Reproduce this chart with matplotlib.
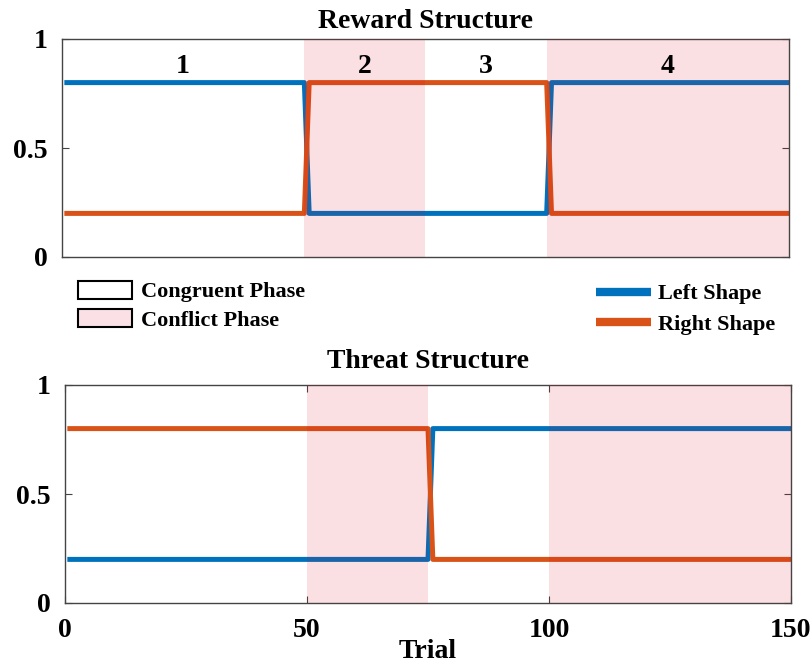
import numpy as np
import matplotlib.pyplot as plt
from matplotlib.patches import Patch
from matplotlib.lines import Line2D

plt.rcParams['font.family'] = ['Liberation Serif', 'DejaVu Serif']
plt.rcParams['font.weight'] = 'bold'

# trial-wise probabilities for each shape
trials = np.arange(1, 151)
reward_left = np.r_[np.full(50, 0.8), np.full(50, 0.2), np.full(50, 0.8)]
reward_right = np.r_[np.full(50, 0.2), np.full(50, 0.8), np.full(50, 0.2)]
threat_left = np.r_[np.full(75, 0.2), np.full(75, 0.8)]
threat_right = np.r_[np.full(75, 0.8), np.full(75, 0.2)]

# phases: (start, end, is_conflict)
phase_bounds = [(0, 50, False), (50, 75, True), (75, 100, False), (100, 150, True)]
phase_labels = ['1', '2', '3', '4']

blue = '#0072BD'
orange = '#D95319'
shade = '#DC001E'
shade_alpha = 0.12

W, H = 812, 665
fig = plt.figure(figsize=(W / 100, H / 100), dpi=100)


def px_axes(left, top, right, bottom):
    return fig.add_axes([left / W, 1 - bottom / H, (right - left) / W, (bottom - top) / H])


def style(ax):
    ax.set_xlim(0, 150)
    ax.set_ylim(0, 1)
    ax.set_yticks([0, 0.5, 1])
    ax.set_yticklabels(['0', '0.5', '1'])
    ax.tick_params(direction='in', length=5, width=0.8, labelsize=20, pad=10,
                   top=True, right=True, color='#444444')
    for s in ax.spines.values():
        s.set_color('#444444')
        s.set_linewidth(1.0)


def draw(ax, left, right):
    ax.plot(trials, left, color=blue, lw=3.6, zorder=2)
    ax.plot(trials, right, color=orange, lw=3.6, zorder=2)
    for a, b, conflict in phase_bounds:
        if conflict:
            ax.axvspan(a, b, color=shade, alpha=shade_alpha, lw=0, zorder=3)


# reward panel
ax1 = px_axes(62, 39, 789, 257)
draw(ax1, reward_left, reward_right)
style(ax1)
ax1.set_xticks([])
ax1.set_title('Reward Structure', fontsize=20, fontweight='bold', pad=8)
for (a, b, _), lab in zip(phase_bounds, phase_labels):
    ax1.text((a + b) / 2, 0.875, lab, ha='center', va='center', fontsize=20, fontweight='bold')

# threat panel
ax2 = px_axes(65, 385, 791, 603)
draw(ax2, threat_left, threat_right)
style(ax2)
ax2.set_xticks([0, 50, 100, 150])
ax2.tick_params(axis='x', pad=11)
ax2.set_title('Threat Structure', fontsize=20, fontweight='bold', pad=12)
ax2.set_xlabel('Trial', fontsize=20, fontweight='bold', labelpad=-3)

# legends
phase_handles = [Patch(facecolor='white', edgecolor='black', lw=1.5),
                 Patch(facecolor='#FBE1E5', edgecolor='black', lw=1.5)]
fig.legend(phase_handles, ['Congruent Phase', 'Conflict Phase'],
           loc='upper left', bbox_to_anchor=(69 / W, 1 - 272 / H), frameon=False,
           fontsize=16, handlelength=2.45, handleheight=0.85, handletextpad=0.4,
           labelspacing=0.3, borderaxespad=0)

line_handles = [Line2D([], [], color=blue, lw=6, solid_capstyle='butt'),
                Line2D([], [], color=orange, lw=6, solid_capstyle='butt')]
fig.legend(line_handles, ['Left Shape', 'Right Shape'],
           loc='upper left', bbox_to_anchor=(587 / W, 1 - 275 / H), frameon=False,
           fontsize=16, handlelength=2.5, handletextpad=0.28,
           labelspacing=0.45, borderaxespad=0)

fig.savefig('out.png', dpi=100)
